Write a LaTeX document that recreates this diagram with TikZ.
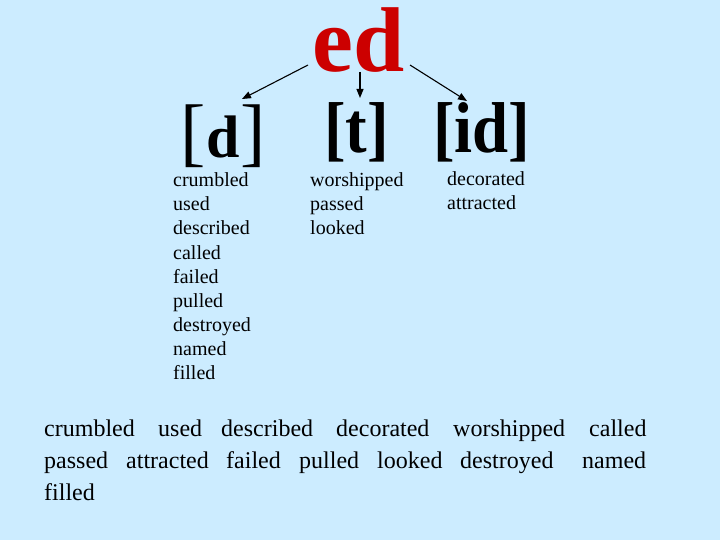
\documentclass[tikz,border=0pt]{standalone}
\usepackage{fontspec}
\setmainfont{Liberation Serif}
\usetikzlibrary{arrows.meta}
\definecolor{bg}{RGB}{204,236,255}
\definecolor{edred}{RGB}{204,0,0}
\tikzset{
  word/.style={anchor=base west, inner sep=0pt, font=\fontsize{20}{20}\selectfont},
  bigword/.style={anchor=base west, inner sep=0pt, font=\fontsize{24}{24}\selectfont},
  ipa/.style={anchor=base west, inner sep=0pt, font=\fontsize{72}{72}\selectfont\bfseries},
  conn/.style={line width=1.1pt, -{Triangle[length=9pt,width=7pt]}}
}
\begin{document}
\begin{tikzpicture}[x=1pt,y=-1pt]
\fill[bg] (0,0) rectangle (720,540);
\useasboundingbox (0,0) rectangle (720,540);

\node[anchor=base west, inner sep=0pt, text=edred, font=\fontsize{92}{92}\selectfont\bfseries] (ed) at (312,72) {ed};

\node[anchor=base west, inner sep=0pt, font=\fontsize{76}{76}\selectfont] (d) at (180,158)
  {[\hspace{1pt}{\fontsize{60}{60}\selectfont\bfseries d}\hspace{1pt}]};
\node[ipa] (t) at (324,153) {\scalebox{0.9}[1]{[t]}};
\node[ipa] (id) at (433,153) {\scalebox{0.9}[1]{[id]}};

\coordinate (s1) at (308,65);
\coordinate (e1) at (242,99);
\coordinate (s2) at (360,72);
\coordinate (e2) at (360,98);
\coordinate (s3) at (410,65);
\coordinate (e3) at (467,101);
\draw[conn] (s1) -- (e1);
\draw[conn] (s2) -- (e2);
\draw[conn] (s3) -- (e3);

\foreach \w [count=\i] in {crumbled,used,described,called,failed,pulled,destroyed,named,filled}
  \node[word] (dw\i) at (173,163+24*\i) {\w};
\foreach \w [count=\i] in {worshipped,passed,looked}
  \node[word] (tw\i) at (310,163+24*\i) {\w};
\foreach \w [count=\i] in {decorated,attracted}
  \node[word] (iw\i) at (447,162+24*\i) {\w};

\foreach \w/\x [count=\i] in {crumbled/44,used/158,described/221,decorated/336,worshipped/453,called/589}
  \node[bigword] (la\i) at (\x,436) {\w};
\foreach \w/\x [count=\i] in {passed/44,attracted/126,failed/226,pulled/299,looked/377,destroyed/460,named/582}
  \node[bigword] (lb\i) at (\x,468) {\w};
\node[bigword] (lc1) at (44,500) {filled};
\end{tikzpicture}
\end{document}
